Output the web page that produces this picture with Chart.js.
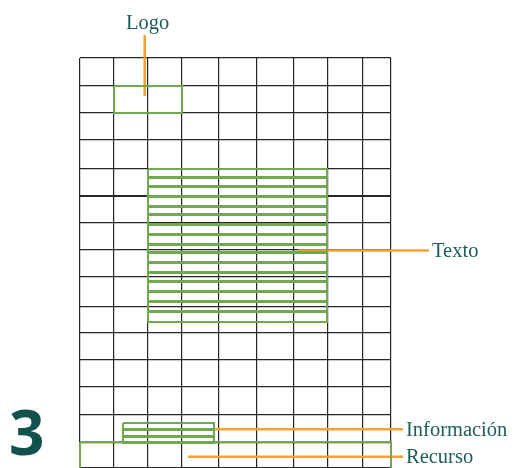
<!DOCTYPE html>
<html>
<head>
<meta charset="utf-8">
<script src="https://cdn.jsdelivr.net/npm/chart.js@4/dist/chart.umd.min.js"></script>
<style>
  html,body{margin:0;padding:0;background:#fff;}
  #wrap{position:relative;width:516px;height:468px;overflow:hidden;}
</style>
</head>
<body>
<div id="wrap"><canvas id="c" width="516" height="468"></canvas></div>
<script>
// grid (units measured from the top-left corner of the grid)
const colEdges = [0, 34, 68, 102, 139, 177, 214, 248, 283, 311];
const rowEdges = [0, 28, 55, 82, 111, 138, 165, 192, 219, 249, 275, 302, 329, 357, 385, 410];
const heavyRow = 138;

// boxes [x1, x2, y1, y2]
const logoBox = [34, 102, 28, 55];
const textoCols = [68, 247];
const textoRows = [[111,119],[120,128],[129,138],[139,148],[149,156],[157,166],[167,176],[177,186],
                   [187,194],[195,204],[205,214],[215,223],[224,233],[234,243],[244,253],[254,264]];
const infoCols = [43, 134];
const infoRows = [[365,371],[372,378],[379,385]];
const recursoBox = [0, 311, 384, 416];

// leader lines [x1, y1, x2, y2] and their labels
const labels = ['Logo', 'Texto', 'Información', 'Recurso'];
const leaders = [[64.7,-23,64.7,38],[218,192.5,349,192.5],[108,371.3,323,371.3],[108,398.7,323,398.7]];
const bigNumber = '3';

const GREEN = '#6ea94f', ORANGE = '#f7a037', TEAL = '#1d5d58';

function rectPts(x1, x2, y1, y2){
  return [{x:x1,y:y1},{x:x2,y:y1},{x:x2,y:y2},{x:x1,y:y2},{x:x1,y:y1},{x:x1,y:null}];
}
const textoPts = [].concat(...textoRows.map(r => rectPts(textoCols[0], textoCols[1], r[0], r[1])));
const infoPts = [].concat(...infoRows.map(r => rectPts(infoCols[0], infoCols[1], r[0], r[1])));
const leaderPts = [].concat(...leaders.map(l => [{x:l[0],y:l[1]},{x:l[2],y:l[3]},{x:l[0],y:null}]));

function ds(data, color, w){
  return { type:'line', data, borderColor:color, borderWidth:w, pointRadius:0, fill:false,
           tension:0, spanGaps:false, clip:false };
}

const textPlugin = {
  id:'texts',
  afterDraw(chart){
    const {ctx, scales:{x, y}} = chart;
    ctx.save();
    ctx.fillStyle = TEAL;
    ctx.font = '20.5px "Liberation Serif", serif';
    ctx.textBaseline = 'alphabetic';
    // Logo label sits above its leader
    const l0 = leaders[0];
    ctx.textAlign = 'center';
    ctx.fillText(labels[0], x.getPixelForValue(l0[0]) + 3, y.getPixelForValue(l0[1]) - 6);
    ctx.textAlign = 'left';
    for (let i = 1; i < labels.length; i++){
      const l = leaders[i];
      ctx.fillText(labels[i], x.getPixelForValue(l[2]) + 3, y.getPixelForValue(l[3]) + 6.5);
    }
    ctx.fillStyle = '#12514c';
    ctx.font = 'bold 62px "Open Sans", sans-serif';
    ctx.fillText(bigNumber, 9, 455);
    ctx.restore();
  }
};

new Chart(document.getElementById('c'), {
  type:'scatter',
  data:{ datasets:[
    ds(rectPts(...recursoBox), GREEN, 2),
    ds(rectPts(...logoBox), GREEN, 2),
    ds(textoPts, GREEN, 2),
    ds(infoPts, GREEN, 2),
    ds(leaderPts, ORANGE, 2.5)
  ]},
  options:{
    responsive:false, animation:false, events:[],
    layout:{ padding:{ left:80, right:125, top:58, bottom:0 } },
    plugins:{ legend:{display:false}, tooltip:{enabled:false} },
    scales:{
      x:{ type:'linear', min:0, max:311,
          afterBuildTicks: s => { s.ticks = colEdges.map(v => ({value:v})); },
          ticks:{ display:false }, border:{ display:false },
          grid:{ color:'#262626', lineWidth:1.2, drawTicks:false } },
      y:{ type:'linear', min:0, max:410, reverse:true,
          afterBuildTicks: s => { s.ticks = rowEdges.map(v => ({value:v})); },
          ticks:{ display:false }, border:{ display:false },
          grid:{ color:'#262626', drawTicks:false,
                 lineWidth: c => c.tick && c.tick.value === heavyRow ? 2 : 1.2 } }
    }
  },
  plugins:[textPlugin]
});
</script>
</body>
</html>
